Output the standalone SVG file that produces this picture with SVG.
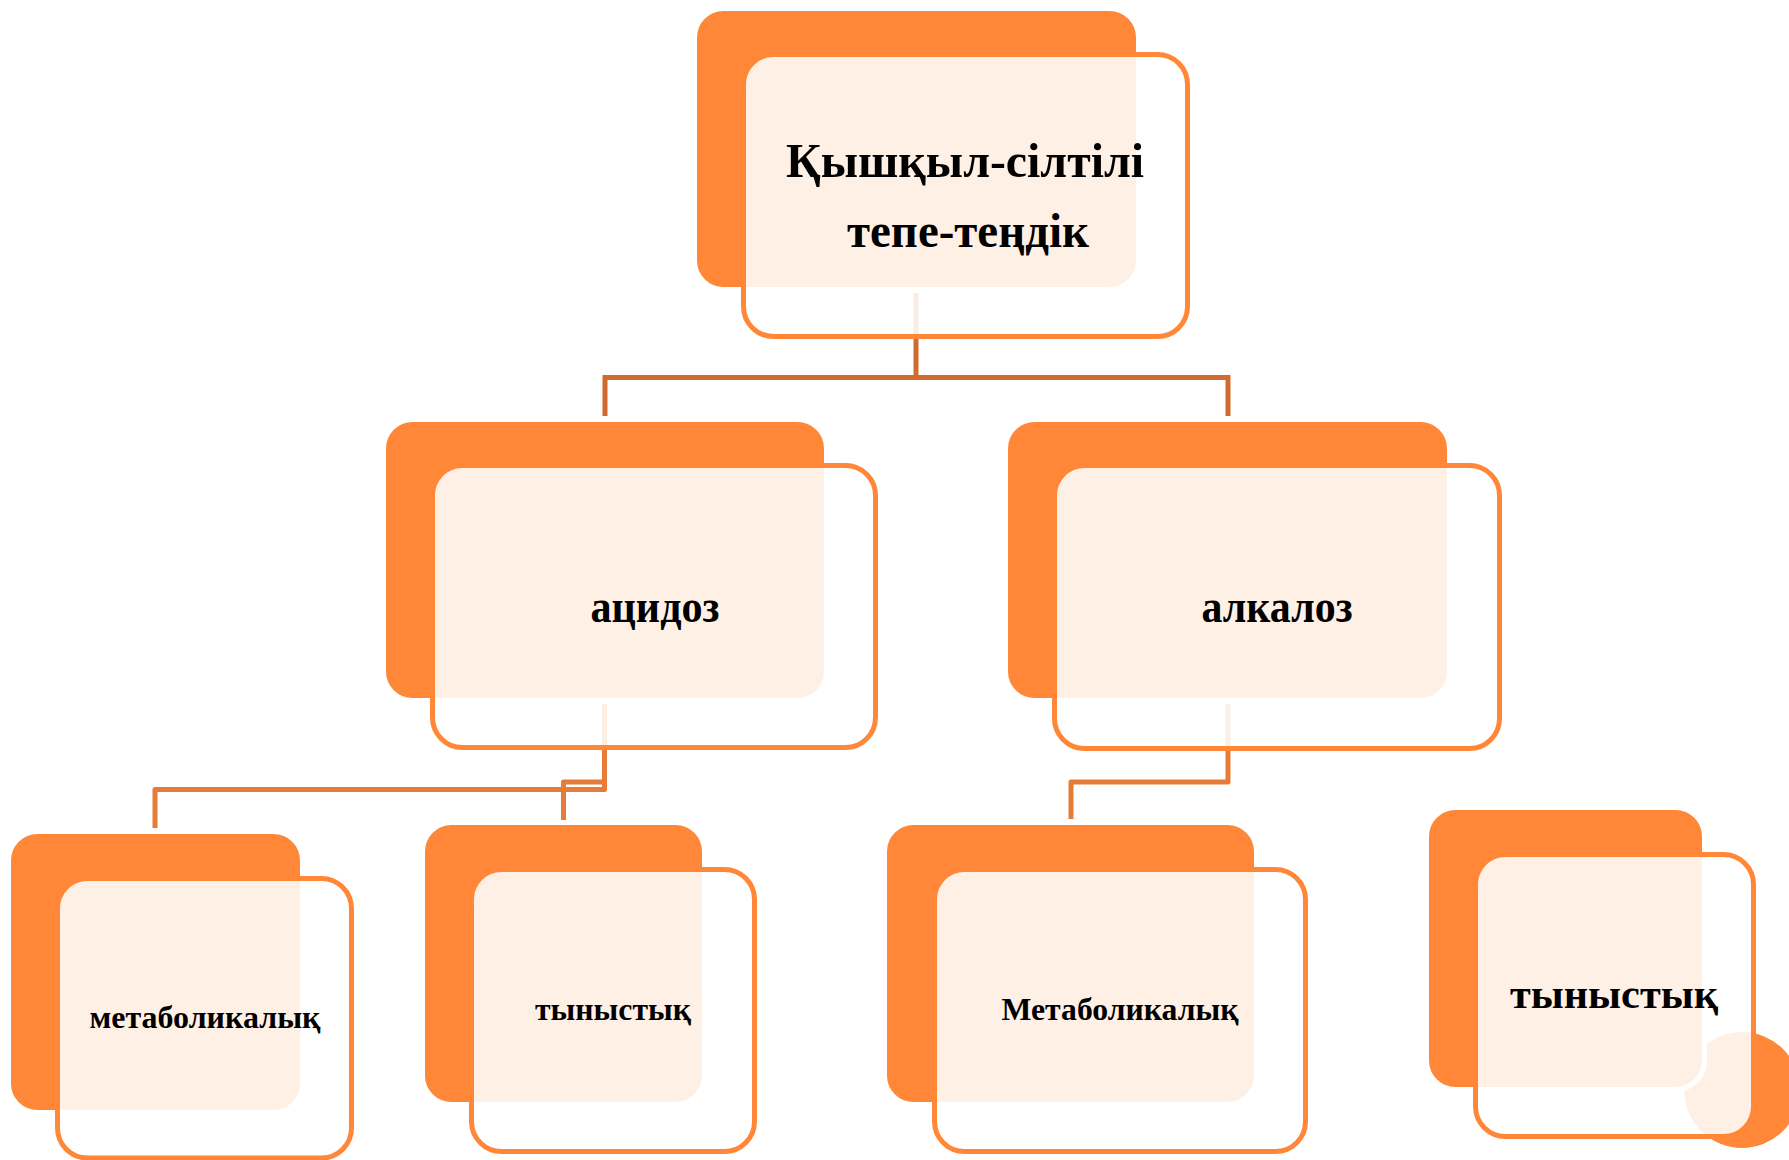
<svg xmlns="http://www.w3.org/2000/svg" width="1789" height="1160" viewBox="0 0 1789 1160">
<style>
.back{fill:#FF8737;stroke:#FFFFFF;stroke-width:5}
.frame{fill:#FFFFFF;fill-opacity:0.88;stroke:#FF8737;stroke-width:5}
.blob{fill:#FF8737}
.lbl{font-family:"Liberation Serif","Times New Roman",serif;font-weight:bold;fill:#000000;text-anchor:middle}
.c1{fill:none;stroke:#CF6B2C;stroke-width:5}
.c2{fill:none;stroke:#E67C37;stroke-width:5;stroke-linejoin:round}
</style>
<rect width="1789" height="1160" fill="#FFFFFF"/>
<g id="connectors">
<path class="c1" d="M916 293 V377.5 M605 416 V377.5 H1228 V416"/>
<path class="c2" d="M604.5 704 V789.5 H155 V828"/>
<path class="c2" d="M604.5 704 V782 H563.5 V820"/>
<path class="c2" d="M1228 704 V782 H1071 V819"/>
</g>
<g id="node-root">
<rect class="back" x="694.5" y="8.5" width="444" height="281" rx="29"/>
<rect class="frame" x="743.5" y="54.5" width="444" height="282" rx="30"/>
<text class="lbl" x="965" y="177" font-size="49" textLength="358" lengthAdjust="spacingAndGlyphs">Қышқыл-сілтілі</text>
<text class="lbl" x="968" y="247" font-size="49" textLength="242" lengthAdjust="spacingAndGlyphs">тепе-теңдік</text>
</g>
<g id="node-acidosis">
<rect class="back" x="383.5" y="419.5" width="443" height="281" rx="29"/>
<rect class="frame" x="432.5" y="465.5" width="443" height="282" rx="30"/>
<text class="lbl" x="655" y="622" font-size="47" textLength="129" lengthAdjust="spacingAndGlyphs">ацидоз</text>
</g>
<g id="node-alkalosis">
<rect class="back" x="1005.5" y="419.5" width="444" height="281" rx="29"/>
<rect class="frame" x="1054.5" y="465.5" width="445" height="283" rx="30"/>
<text class="lbl" x="1277" y="622" font-size="47" textLength="151" lengthAdjust="spacingAndGlyphs">алкалоз</text>
</g>
<g id="node-acid-metabolic">
<rect class="back" x="8.5" y="831.5" width="294" height="281" rx="29"/>
<rect class="frame" x="57.5" y="878.5" width="294" height="279.5" rx="30"/>
<text class="lbl" x="205" y="1028" font-size="32" textLength="231" lengthAdjust="spacingAndGlyphs">метаболикалық</text>
</g>
<g id="node-acid-respiratory">
<rect class="back" x="422.5" y="822.5" width="282" height="282" rx="29"/>
<rect class="frame" x="471.5" y="869.5" width="283" height="282" rx="30"/>
<text class="lbl" x="613" y="1020" font-size="32" textLength="156" lengthAdjust="spacingAndGlyphs">тыныстық</text>
</g>
<g id="node-alk-metabolic">
<rect class="back" x="884.5" y="822.5" width="372" height="282" rx="29"/>
<rect class="frame" x="934.5" y="869.5" width="371" height="282" rx="30"/>
<text class="lbl" x="1120" y="1020" font-size="32" textLength="237" lengthAdjust="spacingAndGlyphs">Метаболикалық</text>
</g>
<g id="node-alk-respiratory">
<circle class="blob" cx="1742" cy="1090" r="58"/>
<rect class="back" x="1426.5" y="807.5" width="278" height="282" rx="29"/>
<rect class="frame" x="1475.5" y="854.5" width="278" height="282" rx="30"/>
<text class="lbl" x="1614" y="1008" font-size="42" textLength="208" lengthAdjust="spacingAndGlyphs">тыныстық</text>
</g>
</svg>
